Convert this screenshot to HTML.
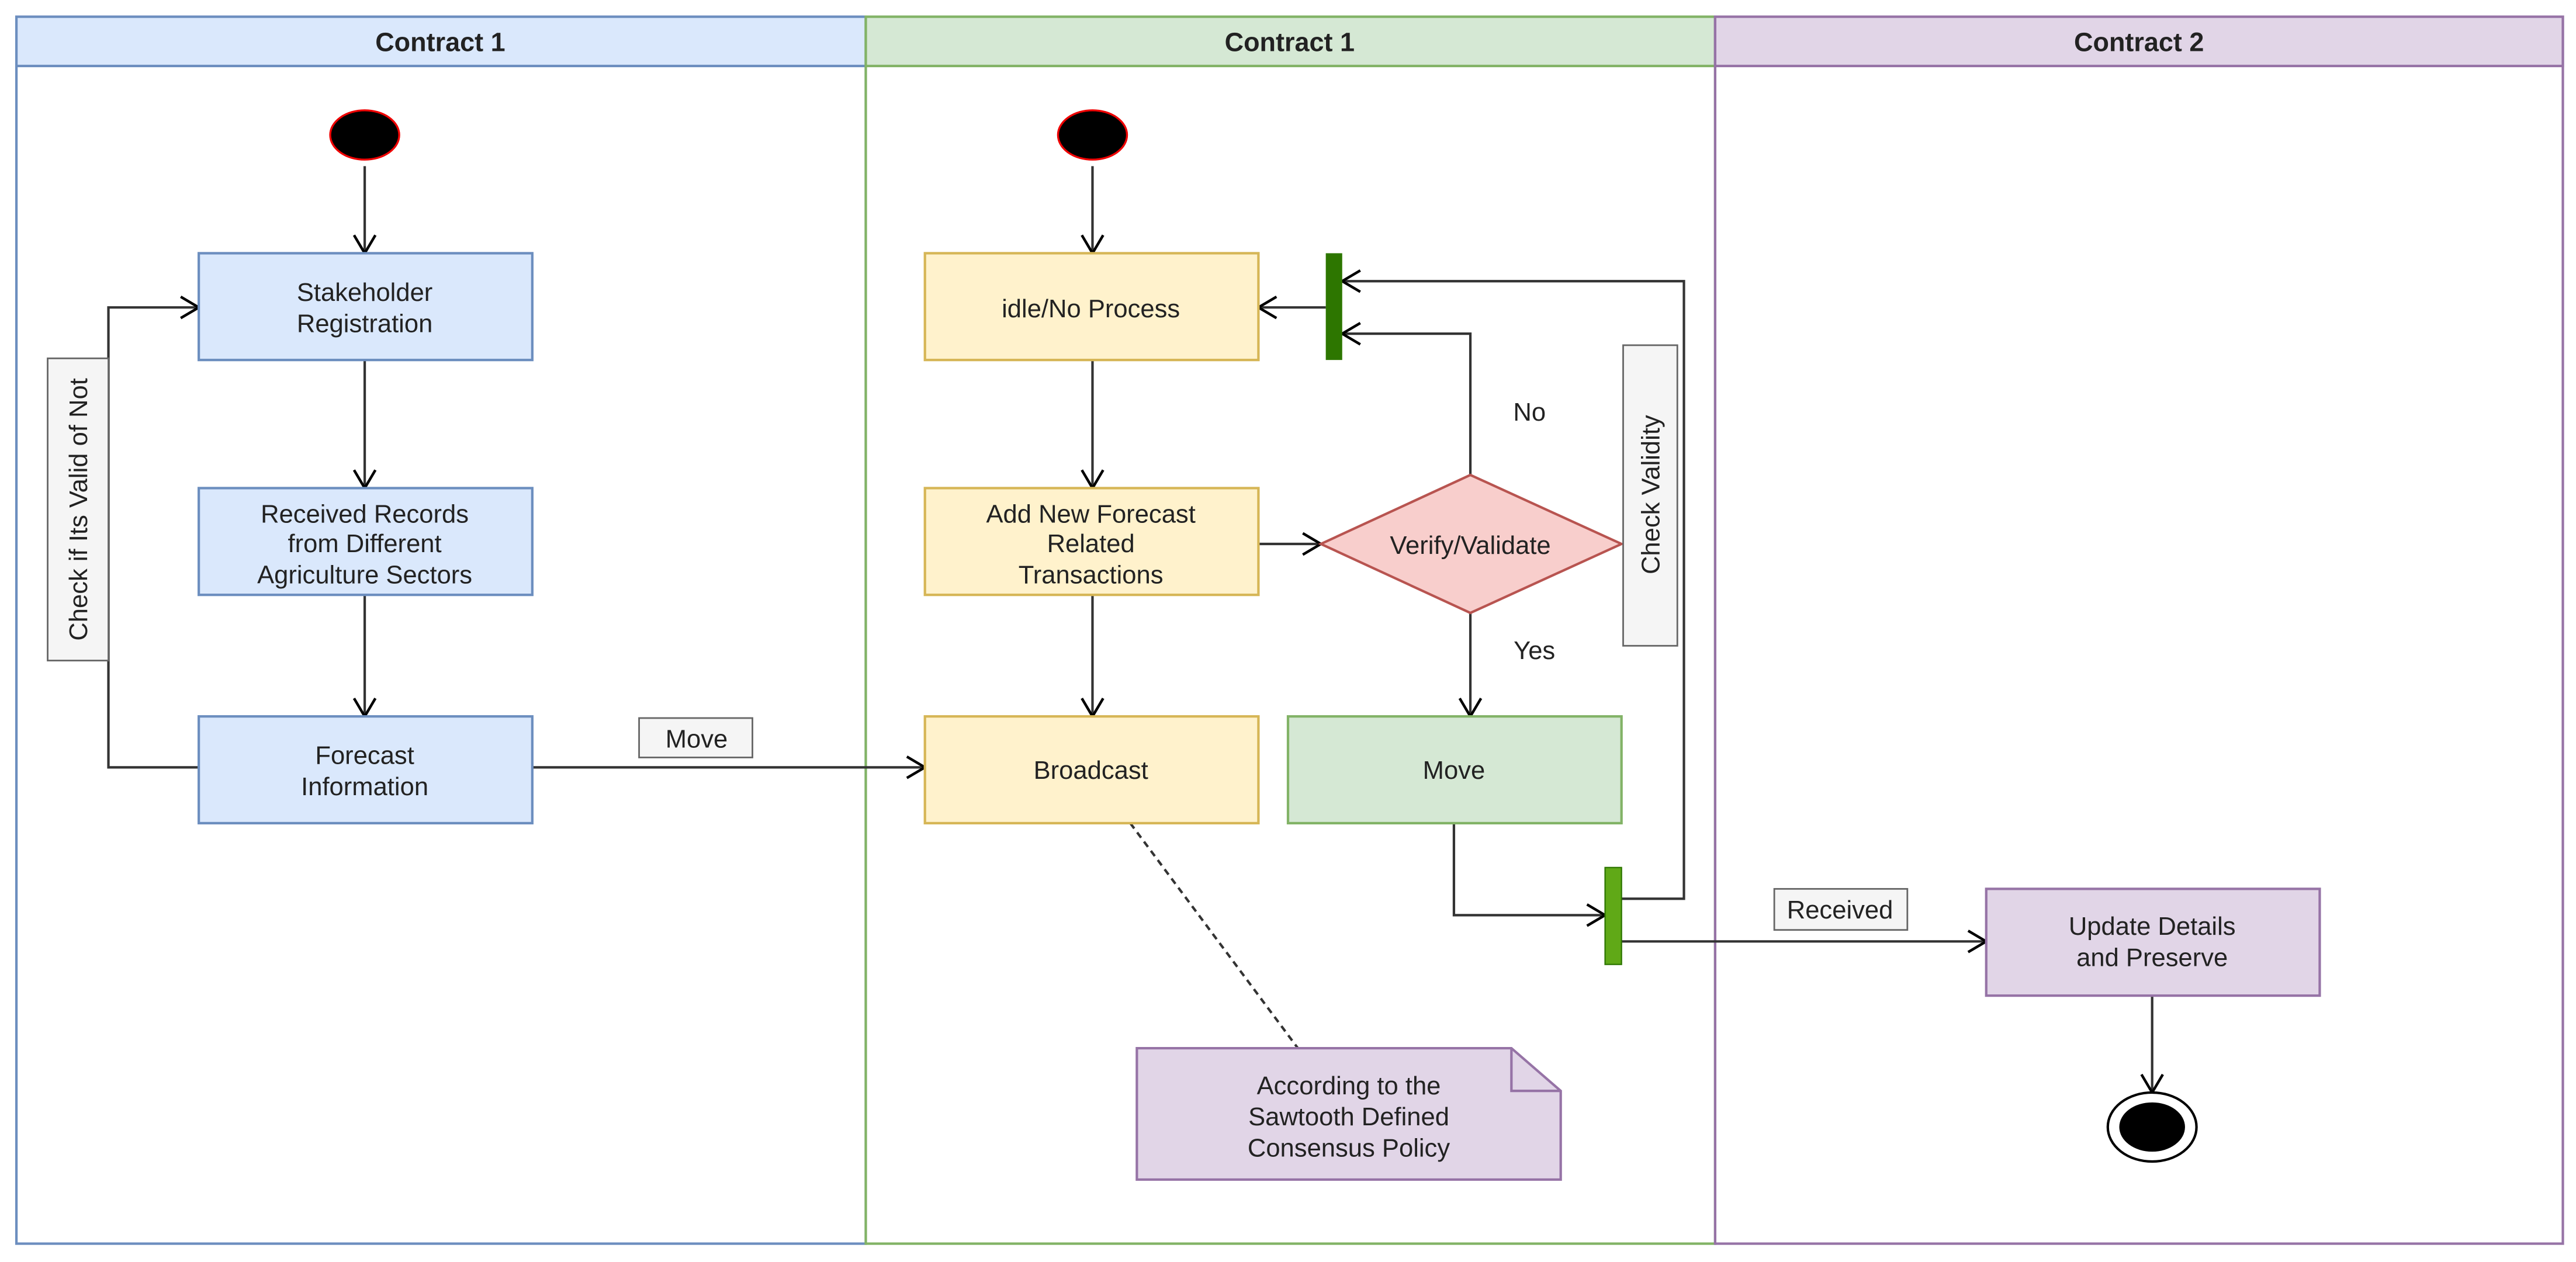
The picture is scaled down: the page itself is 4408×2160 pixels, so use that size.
<!DOCTYPE html>
<html><head><meta charset="utf-8"><style>html,body{margin:0;padding:0;background:#fff;}svg{display:block;}</style></head>
<body>
<svg width="4408" height="2160" viewBox="0 0 1568 768" xmlns="http://www.w3.org/2000/svg" style="font-family:'Liberation Sans', Arial, sans-serif">
<defs>
<marker id="a" viewBox="0 0 14 16" refX="12" refY="8" markerWidth="14" markerHeight="16" markerUnits="userSpaceOnUse" orient="auto">
<path d="M1,1.5 L12,8 L1,14.5" fill="none" stroke="#000" stroke-width="1.6"/></marker>
</defs>
<rect width="1568" height="768" fill="#fff"/>
<!-- lanes -->
<rect x="10" y="10" width="517" height="747" fill="#fff" stroke="#6c8ebf" stroke-width="1.5"/>
<rect x="10" y="10" width="517" height="30" fill="#dae8fc" stroke="#6c8ebf" stroke-width="1.5"/>
<rect x="527" y="10" width="517" height="747" fill="#fff" stroke="#82b366" stroke-width="1.5"/>
<rect x="527" y="10" width="517" height="30" fill="#d5e8d4" stroke="#82b366" stroke-width="1.5"/>
<rect x="1044" y="10" width="516" height="747" fill="#fff" stroke="#9673a6" stroke-width="1.5"/>
<rect x="1044" y="10" width="516" height="30" fill="#e1d5e7" stroke="#9673a6" stroke-width="1.5"/>
<g font-weight="bold" font-size="16" text-anchor="middle" fill="#222">
<text x="268" y="31">Contract 1</text><text x="785" y="31">Contract 1</text><text x="1302" y="31">Contract 2</text></g>

<g stroke="#333" stroke-width="1.5" fill="none">
<line x1="222" y1="101" x2="222" y2="154" marker-end="url(#a)"/>
<line x1="222" y1="219" x2="222" y2="297" marker-end="url(#a)"/>
<line x1="222" y1="362" x2="222" y2="436" marker-end="url(#a)"/>
<polyline points="121,467 66,467 66,187 121,187" marker-end="url(#a)"/>
<line x1="324" y1="467" x2="563" y2="467" marker-end="url(#a)"/>
<line x1="665" y1="101" x2="665" y2="154" marker-end="url(#a)"/>
<line x1="665" y1="219" x2="665" y2="297" marker-end="url(#a)"/>
<line x1="665" y1="362" x2="665" y2="436" marker-end="url(#a)"/>
<line x1="766" y1="331" x2="804" y2="331" marker-end="url(#a)"/>
<line x1="807" y1="187" x2="766" y2="187" marker-end="url(#a)"/>
<polyline points="895,289 895,203 817,203" marker-end="url(#a)"/>
<polyline points="987,547 1025,547 1025,171 817,171" marker-end="url(#a)"/>
<line x1="895" y1="373" x2="895" y2="436" marker-end="url(#a)"/>
<polyline points="885,501 885,557 977,557" marker-end="url(#a)"/>
<line x1="987" y1="573" x2="1209" y2="573" marker-end="url(#a)"/>
<line x1="1310" y1="606" x2="1310" y2="665" marker-end="url(#a)"/>
<line x1="688" y1="501" x2="790" y2="638" stroke-dasharray="4,3"/>
</g>

<ellipse cx="222" cy="82" rx="21" ry="15" fill="#000" stroke="#e00" stroke-width="1.2"/>
<ellipse cx="665" cy="82" rx="21" ry="15" fill="#000" stroke="#e00" stroke-width="1.2"/>
<ellipse cx="1310" cy="686" rx="27" ry="21" fill="#fff" stroke="#000" stroke-width="1.5"/>
<ellipse cx="1310" cy="686" rx="20" ry="15" fill="#000"/>

<g stroke-width="1.5">
<rect x="121" y="154" width="203" height="65" fill="#dae8fc" stroke="#6c8ebf"/>
<rect x="121" y="297" width="203" height="65" fill="#dae8fc" stroke="#6c8ebf"/>
<rect x="121" y="436" width="203" height="65" fill="#dae8fc" stroke="#6c8ebf"/>
<rect x="563" y="154" width="203" height="65" fill="#fff2cc" stroke="#d6b656"/>
<rect x="563" y="297" width="203" height="65" fill="#fff2cc" stroke="#d6b656"/>
<rect x="563" y="436" width="203" height="65" fill="#fff2cc" stroke="#d6b656"/>
<rect x="784" y="436" width="203" height="65" fill="#d5e8d4" stroke="#82b366"/>
<rect x="1209" y="541" width="203" height="65" fill="#e1d5e7" stroke="#9673a6"/>
<polygon points="895,289 987,331 895,373 804,331" fill="#f8cecc" stroke="#b85450"/>
<path d="M692,638 L920,638 L950,664 L950,718 L692,718 Z" fill="#e1d5e7" stroke="#9673a6"/>
<path d="M920,638 L920,664 L950,664" fill="none" stroke="#9673a6"/>
<rect x="29" y="218" width="37" height="184" fill="#f5f5f5" stroke="#666" stroke-width="1"/>
<rect x="988" y="210" width="33" height="183" fill="#f5f5f5" stroke="#666" stroke-width="1"/>
<rect x="389" y="437" width="69" height="24" fill="#f5f5f5" stroke="#666" stroke-width="1"/>
<rect x="1080" y="541" width="81" height="25" fill="#f5f5f5" stroke="#666" stroke-width="1"/>
</g>
<rect x="807" y="154" width="10" height="65" fill="#2d7600"/>
<rect x="977" y="528" width="10" height="59" fill="#60a917" stroke="#2d7600" stroke-width="0.8"/>

<g font-size="15.5" text-anchor="middle" fill="#222">
<text x="222" y="183">Stakeholder</text><text x="222" y="202">Registration</text>
<text x="222" y="318">Received Records</text><text x="222" y="336">from  Different</text><text x="222" y="355">Agriculture Sectors</text>
<text x="222" y="465">Forecast</text><text x="222" y="484">Information</text>
<text x="664" y="193">idle/No Process</text>
<text x="664" y="318">Add New Forecast</text><text x="664" y="336">Related</text><text x="664" y="355">Transactions</text>
<text x="664" y="474">Broadcast</text>
<text x="885" y="474">Move</text>
<text x="895" y="337">Verify/Validate</text>
<text x="1310" y="569">Update Details</text><text x="1310" y="588">and Preserve</text>
<text x="821" y="666">According to the</text><text x="821" y="685">Sawtooth Defined</text><text x="821" y="704">Consensus Policy</text>
<text x="931" y="256">No</text><text x="934" y="401">Yes</text>
<text x="424" y="455">Move</text><text x="1120" y="559">Received</text>
<text transform="translate(53,310) rotate(-90)">Check if Its Valid of Not</text>
<text transform="translate(1010,301) rotate(-90)">Check Validity</text>
</g>
</svg>
</body></html>
